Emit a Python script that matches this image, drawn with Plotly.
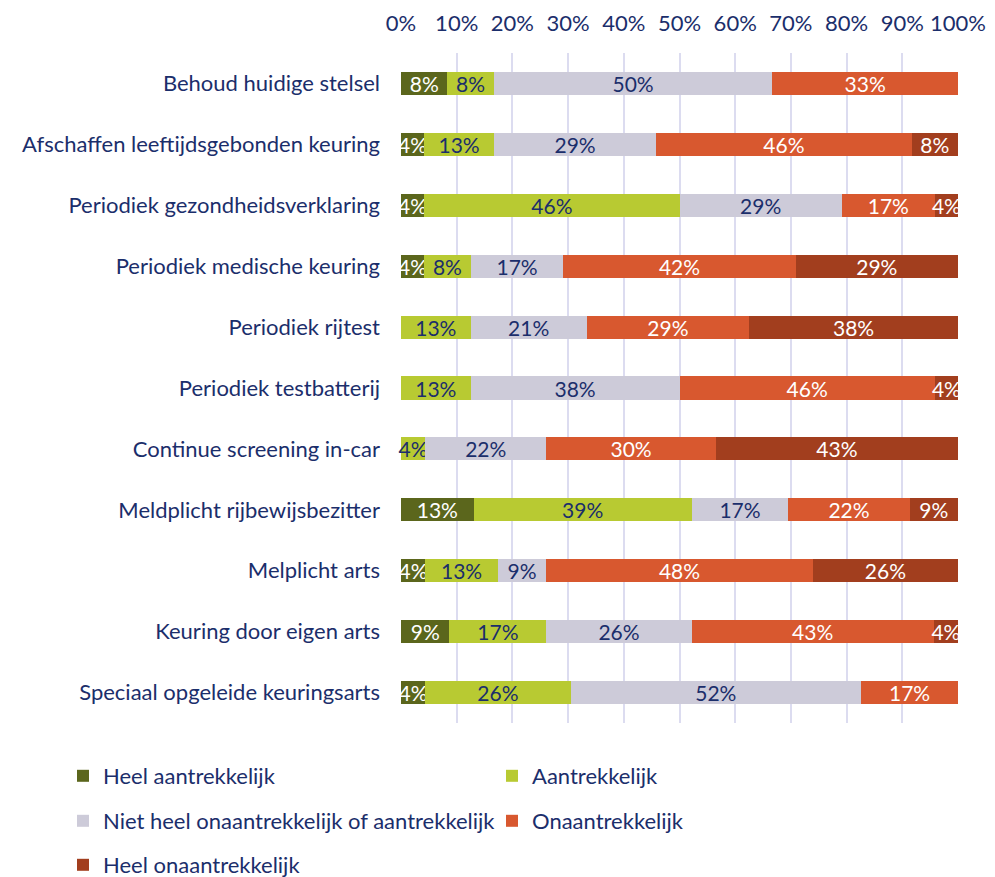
import plotly.graph_objects as go

categories = [
    "Behoud huidige stelsel",
    "Afschaffen leeftijdsgebonden keuring",
    "Periodiek gezondheidsverklaring",
    "Periodiek medische keuring",
    "Periodiek rijtest",
    "Periodiek testbatterij",
    "Continue screening in-car",
    "Meldplicht rijbewijsbezitter",
    "Melplicht arts",
    "Keuring door eigen arts",
    "Speciaal opgeleide keuringsarts",
]

series_names = [
    "Heel aantrekkelijk",
    "Aantrekkelijk",
    "Niet heel onaantrekkelijk of aantrekkelijk",
    "Onaantrekkelijk",
    "Heel onaantrekkelijk",
]

heel_aantrekkelijk = [8.33, 4.17, 4.17, 4.17, 0, 0, 0, 13.04, 4.35, 8.70, 4.35]
aantrekkelijk = [8.33, 12.5, 45.83, 8.33, 12.5, 12.5, 4.35, 39.13, 13.04, 17.39, 26.09]
neutraal = [50.0, 29.17, 29.16, 16.67, 20.83, 37.5, 21.74, 17.39, 8.70, 26.09, 52.17]
onaantrekkelijk = [33.33, 45.83, 16.67, 41.67, 29.17, 45.83, 30.43, 21.74, 47.83, 43.47, 17.39]
heel_onaantrekkelijk = [0, 8.33, 4.17, 29.16, 37.5, 4.17, 43.48, 8.70, 26.08, 4.35, 0]

values = [heel_aantrekkelijk, aantrekkelijk, neutraal, onaantrekkelijk, heel_onaantrekkelijk]
colors = ["#5B661C", "#B8CA32", "#CDCBD9", "#D8582F", "#A23E1E"]
text_colors = ["white", "#1B2E6B", "#1B2E6B", "white", "white"]
legend_ids = ["legend", "legend", "legend2", "legend2", "legend3"]

NAVY = "#1B2E6B"
FONT = "Lato"
FS = 22

# the page body adds an 8px offset, so the figure is sized/positioned to compensate
FIG_W, FIG_H = 987, 869
M_L, M_R, M_T, M_B = 393, 37, 45, 154
PLOT_W = FIG_W - M_L - M_R
PLOT_H = FIG_H - M_T - M_B

fig = go.Figure()
for name, vals, col, tcol, lg in zip(series_names, values, colors, text_colors, legend_ids):
    fig.add_trace(go.Bar(
        y=categories,
        x=vals,
        name=name,
        orientation="h",
        legend=lg,
        marker=dict(color=col, line=dict(width=0)),
        text=[f"{int(v + 0.5)}%" if v > 0 else "" for v in vals],
        textposition="inside",
        insidetextanchor="middle",
        textangle=0,
        constraintext="none",
        textfont=dict(color=tcol, size=21, family=FONT),
        cliponaxis=False,
        hoverinfo="skip",
    ))

legend_common = dict(
    orientation="h",
    xanchor="left",
    yanchor="middle",
    font=dict(size=FS, color=NAVY, family=FONT),
    entrywidth=384,
    entrywidthmode="pixels",
    traceorder="normal",
    bgcolor="rgba(0,0,0,0)",
)
x_leg = -(M_L - 55) / PLOT_W
plot_bottom = M_T + PLOT_H  # figure coords

fig.update_layout(
    barmode="stack",
    bargap=0.62,
    width=FIG_W,
    height=FIG_H,
    margin=dict(l=M_L, r=M_R, t=M_T, b=M_B, autoexpand=False),
    plot_bgcolor="white",
    paper_bgcolor="white",
    font=dict(family=FONT, color=NAVY, size=FS),
    hovermode=False,
    legend=dict(legend_common, x=x_leg, y=-(768 - plot_bottom) / PLOT_H),
    legend2=dict(legend_common, x=x_leg, y=-(813 - plot_bottom) / PLOT_H),
    legend3=dict(legend_common, x=x_leg, y=-(857 - plot_bottom) / PLOT_H),
    xaxis=dict(
        side="top",
        range=[0, 100],
        dtick=10,
        ticksuffix="%",
        showgrid=True,
        gridcolor="#DCDCF0",
        gridwidth=2,
        zeroline=False,
        tickfont=dict(size=FS, color=NAVY, family=FONT),
        ticklabelstandoff=17,
        automargin=False,
        fixedrange=True,
    ),
    yaxis=dict(
        autorange="reversed",
        tickfont=dict(size=FS, color=NAVY, family=FONT),
        ticklabelstandoff=20,
        showgrid=False,
        automargin=False,
        fixedrange=True,
    ),
)

fig.write_html("out.html")
